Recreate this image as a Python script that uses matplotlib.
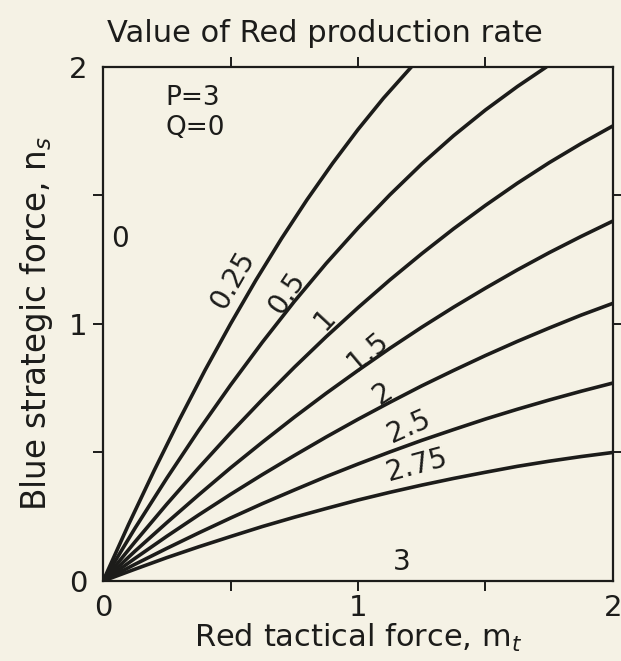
import matplotlib
matplotlib.use("Agg")
import matplotlib.pyplot as plt

# ---- data ----
rates = ["0.25", "0.5", "1", "1.5", "2", "2.5", "2.75"]

x_025 = [0, 0.1, 0.2, 0.3, 0.4, 0.5, 0.6, 0.7, 0.8, 0.9, 1.0, 1.1, 1.21]
y_025 = [0, 0.220, 0.429, 0.629, 0.820, 1.000, 1.171, 1.332, 1.483, 1.624,
         1.756, 1.878, 2.0]

x_05 = [0, 0.125, 0.25, 0.375, 0.5, 0.625, 0.75, 0.875, 1.0, 1.125, 1.25,
        1.375, 1.5, 1.625, 1.74]
y_05 = [0, 0.205, 0.400, 0.586, 0.762, 0.929, 1.087, 1.235, 1.373, 1.502,
        1.622, 1.732, 1.832, 1.923, 2.0]

x_grid = [0, 0.125, 0.25, 0.375, 0.5, 0.625, 0.75, 0.875, 1.0, 1.125, 1.25,
          1.375, 1.5, 1.625, 1.75, 1.875, 2.0]
y_1 = [0, 0.152, 0.299, 0.440, 0.576, 0.706, 0.831, 0.950, 1.063, 1.171,
       1.273, 1.370, 1.461, 1.547, 1.627, 1.701, 1.770]
y_15 = [0, 0.116, 0.227, 0.335, 0.440, 0.540, 0.637, 0.730, 0.819, 0.905,
        0.987, 1.065, 1.139, 1.210, 1.277, 1.340, 1.400]
y_2 = [0, 0.088, 0.174, 0.257, 0.337, 0.414, 0.488, 0.560, 0.629, 0.695,
       0.759, 0.819, 0.877, 0.932, 0.984, 1.034, 1.080]
y_25 = [0, 0.065, 0.127, 0.187, 0.245, 0.301, 0.354, 0.406, 0.455, 0.502,
        0.547, 0.589, 0.630, 0.668, 0.704, 0.738, 0.770]
y_275 = [0, 0.046, 0.091, 0.133, 0.173, 0.212, 0.248, 0.282, 0.315, 0.345,
         0.373, 0.399, 0.423, 0.446, 0.466, 0.484, 0.500]

series_x = [x_025, x_05, x_grid, x_grid, x_grid, x_grid, x_grid]
series_y = [y_025, y_05, y_1, y_15, y_2, y_25, y_275]

# label positions (data coords) and rotations
label_x = [0.51, 0.72, 0.87, 1.04, 1.10, 1.20, 1.23]
label_y = [1.17, 1.12, 1.02, 0.89, 0.73, 0.60, 0.45]
label_rot = [60, 56, 47, 40, 33, 24, 15]

tick_vals = [0, 0.5, 1, 1.5, 2]
tick_labels = ["0", "", "1", "", "2"]
minor_vals = [0.5, 1, 1.5]

bg = "#f5f2e5"
ink = "#1c1c1a"

plt.rcParams["font.family"] = ["DejaVu Sans"]

fig = plt.figure(figsize=(6.21, 6.61), dpi=100, facecolor=bg)
ax = fig.add_axes([0.166, 0.121, 0.821, 0.778], facecolor=bg)

for xs, ys in zip(series_x, series_y):
    ax.plot(xs, ys, color=ink, lw=2.6, solid_capstyle="butt",
            solid_joinstyle="round")

for txt, lx, ly, r in zip(rates, label_x, label_y, label_rot):
    ax.text(lx, ly, txt, rotation=r, rotation_mode="anchor", ha="center",
            va="center", fontsize=20, color=ink)

ax.text(0.065, 1.33, "0", ha="center", va="center", fontsize=20, color=ink)
ax.text(1.17, 0.075, "3", ha="center", va="center", fontsize=20, color=ink)
ax.text(0.245, 1.88, "P=3", ha="left", va="center", fontsize=19, color=ink)
ax.text(0.245, 1.76, "Q=0", ha="left", va="center", fontsize=19, color=ink)

ax.set_xlim(0, 2)
ax.set_ylim(0, 2)
ax.set_xticks(tick_vals)
ax.set_yticks(tick_vals)
ax.set_xticklabels(tick_labels)
ax.set_yticklabels(tick_labels)
ax.set_xticks(minor_vals, minor=True)
ax.set_yticks(minor_vals, minor=True)
ax.tick_params(which="major", direction="out", length=7, width=1.4,
               labelsize=21, colors=ink, pad=4, top=True, right=True)
ax.tick_params(axis="x", which="major", pad=2)
ax.tick_params(which="minor", direction="in", length=17, width=1.4,
               color=ink, top=True, right=True)
for axis in (ax.xaxis, ax.yaxis):
    ticks = axis.get_major_ticks()
    for t in (ticks[0], ticks[-1]):
        t.tick1line.set_visible(False)
        t.tick2line.set_visible(False)
for s in ax.spines.values():
    s.set_linewidth(1.6)
    s.set_color(ink)

fig.text(0.523, 0.950, "Value of Red production rate", fontsize=22,
         color=ink, ha="center", va="center")
ax.set_xlabel("Red tactical force, m$_t$", fontsize=22, color=ink, labelpad=0)
ax.set_ylabel("Blue strategic force, n$_s$", fontsize=23.5, color=ink,
              labelpad=10)

fig.savefig("out.png", dpi=100, facecolor=bg)
